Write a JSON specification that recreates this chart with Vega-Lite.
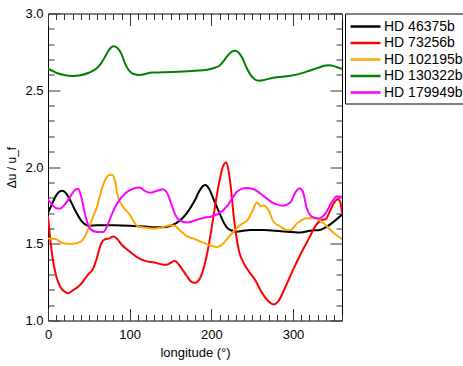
{
  "$schema": "https://vega.github.io/schema/vega-lite/v6.json",
  "width": 294,
  "height": 307,
  "autosize": {"type": "none"},
  "padding": {"left": 48, "top": 13.5, "right": 121, "bottom": 45.5},
  "background": "white",
  "config": {
    "view": {"stroke": "black", "strokeWidth": 1},
    "font": "Liberation Sans",
    "axis": {"domain": false, "grid": false, "tickColor": "#333", "labelColor": "black", "titleColor": "black", "labelFont": "Liberation Sans", "titleFont": "Liberation Sans", "titleFontWeight": "normal"}
  },
  "datasets": {
    "curves": [
      {"planet": "HD 46375b", "lon": 0, "du": 1.70}, {"planet": "HD 46375b", "lon": 5, "du": 1.76}, {"planet": "HD 46375b", "lon": 10, "du": 1.815}, {"planet": "HD 46375b", "lon": 15, "du": 1.843}, {"planet": "HD 46375b", "lon": 18, "du": 1.846}, {"planet": "HD 46375b", "lon": 22, "du": 1.83}, {"planet": "HD 46375b", "lon": 27, "du": 1.785}, {"planet": "HD 46375b", "lon": 33, "du": 1.72}, {"planet": "HD 46375b", "lon": 40, "du": 1.656}, {"planet": "HD 46375b", "lon": 45, "du": 1.628}, {"planet": "HD 46375b", "lon": 50, "du": 1.618}, {"planet": "HD 46375b", "lon": 60, "du": 1.62}, {"planet": "HD 46375b", "lon": 80, "du": 1.62}, {"planet": "HD 46375b", "lon": 100, "du": 1.618}, {"planet": "HD 46375b", "lon": 120, "du": 1.612}, {"planet": "HD 46375b", "lon": 130, "du": 1.607}, {"planet": "HD 46375b", "lon": 140, "du": 1.607}, {"planet": "HD 46375b", "lon": 150, "du": 1.617}, {"planet": "HD 46375b", "lon": 160, "du": 1.645}, {"planet": "HD 46375b", "lon": 170, "du": 1.70}, {"planet": "HD 46375b", "lon": 180, "du": 1.785}, {"planet": "HD 46375b", "lon": 185, "du": 1.84}, {"planet": "HD 46375b", "lon": 190, "du": 1.877}, {"planet": "HD 46375b", "lon": 193, "du": 1.883}, {"planet": "HD 46375b", "lon": 197, "du": 1.86}, {"planet": "HD 46375b", "lon": 203, "du": 1.787}, {"planet": "HD 46375b", "lon": 210, "du": 1.70}, {"planet": "HD 46375b", "lon": 215, "du": 1.64}, {"planet": "HD 46375b", "lon": 220, "du": 1.60}, {"planet": "HD 46375b", "lon": 225, "du": 1.586}, {"planet": "HD 46375b", "lon": 230, "du": 1.578}, {"planet": "HD 46375b", "lon": 248, "du": 1.59}, {"planet": "HD 46375b", "lon": 264, "du": 1.59}, {"planet": "HD 46375b", "lon": 285, "du": 1.582}, {"planet": "HD 46375b", "lon": 309, "du": 1.573}, {"planet": "HD 46375b", "lon": 321, "du": 1.585}, {"planet": "HD 46375b", "lon": 333, "du": 1.59}, {"planet": "HD 46375b", "lon": 341, "du": 1.61}, {"planet": "HD 46375b", "lon": 350, "du": 1.644}, {"planet": "HD 46375b", "lon": 360, "du": 1.69},

      {"planet": "HD 73256b", "lon": 0, "du": 1.68}, {"planet": "HD 73256b", "lon": 2, "du": 1.57}, {"planet": "HD 73256b", "lon": 5, "du": 1.43}, {"planet": "HD 73256b", "lon": 10, "du": 1.29}, {"planet": "HD 73256b", "lon": 15, "du": 1.22}, {"planet": "HD 73256b", "lon": 20, "du": 1.19}, {"planet": "HD 73256b", "lon": 24, "du": 1.178}, {"planet": "HD 73256b", "lon": 30, "du": 1.195}, {"planet": "HD 73256b", "lon": 40, "du": 1.235}, {"planet": "HD 73256b", "lon": 45, "du": 1.27}, {"planet": "HD 73256b", "lon": 50, "du": 1.305}, {"planet": "HD 73256b", "lon": 55, "du": 1.335}, {"planet": "HD 73256b", "lon": 60, "du": 1.41}, {"planet": "HD 73256b", "lon": 65, "du": 1.5}, {"planet": "HD 73256b", "lon": 70, "du": 1.53}, {"planet": "HD 73256b", "lon": 75, "du": 1.535}, {"planet": "HD 73256b", "lon": 80, "du": 1.548}, {"planet": "HD 73256b", "lon": 85, "du": 1.53}, {"planet": "HD 73256b", "lon": 90, "du": 1.495}, {"planet": "HD 73256b", "lon": 100, "du": 1.45}, {"planet": "HD 73256b", "lon": 110, "du": 1.41}, {"planet": "HD 73256b", "lon": 120, "du": 1.387}, {"planet": "HD 73256b", "lon": 130, "du": 1.378}, {"planet": "HD 73256b", "lon": 140, "du": 1.365}, {"planet": "HD 73256b", "lon": 145, "du": 1.363}, {"planet": "HD 73256b", "lon": 150, "du": 1.375}, {"planet": "HD 73256b", "lon": 155, "du": 1.39}, {"planet": "HD 73256b", "lon": 160, "du": 1.365}, {"planet": "HD 73256b", "lon": 170, "du": 1.29}, {"planet": "HD 73256b", "lon": 175, "du": 1.255}, {"planet": "HD 73256b", "lon": 180, "du": 1.245}, {"planet": "HD 73256b", "lon": 185, "du": 1.265}, {"planet": "HD 73256b", "lon": 190, "du": 1.33}, {"planet": "HD 73256b", "lon": 195, "du": 1.44}, {"planet": "HD 73256b", "lon": 200, "du": 1.59}, {"planet": "HD 73256b", "lon": 205, "du": 1.76}, {"planet": "HD 73256b", "lon": 210, "du": 1.91}, {"planet": "HD 73256b", "lon": 214, "du": 2.0}, {"planet": "HD 73256b", "lon": 218, "du": 2.03}, {"planet": "HD 73256b", "lon": 221, "du": 1.98}, {"planet": "HD 73256b", "lon": 224, "du": 1.86}, {"planet": "HD 73256b", "lon": 227, "du": 1.7}, {"planet": "HD 73256b", "lon": 230, "du": 1.57}, {"planet": "HD 73256b", "lon": 234, "du": 1.45}, {"planet": "HD 73256b", "lon": 240, "du": 1.37}, {"planet": "HD 73256b", "lon": 246, "du": 1.32}, {"planet": "HD 73256b", "lon": 254, "du": 1.26}, {"planet": "HD 73256b", "lon": 262, "du": 1.18}, {"planet": "HD 73256b", "lon": 270, "du": 1.125}, {"planet": "HD 73256b", "lon": 276, "du": 1.105}, {"planet": "HD 73256b", "lon": 282, "du": 1.125}, {"planet": "HD 73256b", "lon": 290, "du": 1.21}, {"planet": "HD 73256b", "lon": 300, "du": 1.33}, {"planet": "HD 73256b", "lon": 310, "du": 1.44}, {"planet": "HD 73256b", "lon": 320, "du": 1.54}, {"planet": "HD 73256b", "lon": 328, "du": 1.62}, {"planet": "HD 73256b", "lon": 335, "du": 1.655}, {"planet": "HD 73256b", "lon": 340, "du": 1.66}, {"planet": "HD 73256b", "lon": 345, "du": 1.71}, {"planet": "HD 73256b", "lon": 350, "du": 1.765}, {"planet": "HD 73256b", "lon": 355, "du": 1.79}, {"planet": "HD 73256b", "lon": 358, "du": 1.77}, {"planet": "HD 73256b", "lon": 360, "du": 1.70},

      {"planet": "HD 102195b", "lon": 0, "du": 1.535}, {"planet": "HD 102195b", "lon": 10, "du": 1.53}, {"planet": "HD 102195b", "lon": 15, "du": 1.512}, {"planet": "HD 102195b", "lon": 20, "du": 1.502}, {"planet": "HD 102195b", "lon": 30, "du": 1.50}, {"planet": "HD 102195b", "lon": 40, "du": 1.514}, {"planet": "HD 102195b", "lon": 45, "du": 1.545}, {"planet": "HD 102195b", "lon": 50, "du": 1.605}, {"planet": "HD 102195b", "lon": 55, "du": 1.675}, {"planet": "HD 102195b", "lon": 60, "du": 1.74}, {"planet": "HD 102195b", "lon": 65, "du": 1.84}, {"planet": "HD 102195b", "lon": 70, "du": 1.915}, {"planet": "HD 102195b", "lon": 75, "du": 1.948}, {"planet": "HD 102195b", "lon": 79, "du": 1.948}, {"planet": "HD 102195b", "lon": 82, "du": 1.91}, {"planet": "HD 102195b", "lon": 85, "du": 1.82}, {"planet": "HD 102195b", "lon": 90, "du": 1.755}, {"planet": "HD 102195b", "lon": 95, "du": 1.72}, {"planet": "HD 102195b", "lon": 100, "du": 1.69}, {"planet": "HD 102195b", "lon": 105, "du": 1.645}, {"planet": "HD 102195b", "lon": 110, "du": 1.612}, {"planet": "HD 102195b", "lon": 120, "du": 1.605}, {"planet": "HD 102195b", "lon": 130, "du": 1.60}, {"planet": "HD 102195b", "lon": 140, "du": 1.607}, {"planet": "HD 102195b", "lon": 150, "du": 1.62}, {"planet": "HD 102195b", "lon": 155, "du": 1.618}, {"planet": "HD 102195b", "lon": 160, "du": 1.595}, {"planet": "HD 102195b", "lon": 170, "du": 1.55}, {"planet": "HD 102195b", "lon": 180, "du": 1.53}, {"planet": "HD 102195b", "lon": 190, "du": 1.507}, {"planet": "HD 102195b", "lon": 200, "du": 1.488}, {"planet": "HD 102195b", "lon": 207, "du": 1.478}, {"planet": "HD 102195b", "lon": 212, "du": 1.49}, {"planet": "HD 102195b", "lon": 220, "du": 1.535}, {"planet": "HD 102195b", "lon": 228, "du": 1.585}, {"planet": "HD 102195b", "lon": 235, "du": 1.62}, {"planet": "HD 102195b", "lon": 245, "du": 1.66}, {"planet": "HD 102195b", "lon": 250, "du": 1.71}, {"planet": "HD 102195b", "lon": 256, "du": 1.77}, {"planet": "HD 102195b", "lon": 260, "du": 1.745}, {"planet": "HD 102195b", "lon": 265, "du": 1.75}, {"planet": "HD 102195b", "lon": 270, "du": 1.72}, {"planet": "HD 102195b", "lon": 276, "du": 1.645}, {"planet": "HD 102195b", "lon": 285, "du": 1.612}, {"planet": "HD 102195b", "lon": 292, "du": 1.59}, {"planet": "HD 102195b", "lon": 297, "du": 1.59}, {"planet": "HD 102195b", "lon": 305, "du": 1.633}, {"planet": "HD 102195b", "lon": 317, "du": 1.666}, {"planet": "HD 102195b", "lon": 327, "du": 1.666}, {"planet": "HD 102195b", "lon": 337, "du": 1.635}, {"planet": "HD 102195b", "lon": 350, "du": 1.57}, {"planet": "HD 102195b", "lon": 360, "du": 1.53},

      {"planet": "HD 130322b", "lon": 0, "du": 2.64}, {"planet": "HD 130322b", "lon": 5, "du": 2.627}, {"planet": "HD 130322b", "lon": 10, "du": 2.614}, {"planet": "HD 130322b", "lon": 20, "du": 2.599}, {"planet": "HD 130322b", "lon": 30, "du": 2.593}, {"planet": "HD 130322b", "lon": 40, "du": 2.598}, {"planet": "HD 130322b", "lon": 50, "du": 2.614}, {"planet": "HD 130322b", "lon": 60, "du": 2.645}, {"planet": "HD 130322b", "lon": 65, "du": 2.675}, {"planet": "HD 130322b", "lon": 70, "du": 2.72}, {"planet": "HD 130322b", "lon": 75, "du": 2.765}, {"planet": "HD 130322b", "lon": 80, "du": 2.786}, {"planet": "HD 130322b", "lon": 85, "du": 2.775}, {"planet": "HD 130322b", "lon": 90, "du": 2.735}, {"planet": "HD 130322b", "lon": 95, "du": 2.665}, {"planet": "HD 130322b", "lon": 100, "du": 2.625}, {"planet": "HD 130322b", "lon": 105, "du": 2.606}, {"planet": "HD 130322b", "lon": 112, "du": 2.6}, {"planet": "HD 130322b", "lon": 120, "du": 2.607}, {"planet": "HD 130322b", "lon": 127, "du": 2.615}, {"planet": "HD 130322b", "lon": 140, "du": 2.617}, {"planet": "HD 130322b", "lon": 160, "du": 2.621}, {"planet": "HD 130322b", "lon": 180, "du": 2.627}, {"planet": "HD 130322b", "lon": 195, "du": 2.634}, {"planet": "HD 130322b", "lon": 205, "du": 2.648}, {"planet": "HD 130322b", "lon": 210, "du": 2.66}, {"planet": "HD 130322b", "lon": 215, "du": 2.69}, {"planet": "HD 130322b", "lon": 220, "du": 2.725}, {"planet": "HD 130322b", "lon": 225, "du": 2.752}, {"planet": "HD 130322b", "lon": 229, "du": 2.758}, {"planet": "HD 130322b", "lon": 233, "du": 2.748}, {"planet": "HD 130322b", "lon": 238, "du": 2.71}, {"planet": "HD 130322b", "lon": 243, "du": 2.648}, {"planet": "HD 130322b", "lon": 248, "du": 2.6}, {"planet": "HD 130322b", "lon": 253, "du": 2.572}, {"planet": "HD 130322b", "lon": 258, "du": 2.562}, {"planet": "HD 130322b", "lon": 265, "du": 2.567}, {"planet": "HD 130322b", "lon": 270, "du": 2.574}, {"planet": "HD 130322b", "lon": 280, "du": 2.584}, {"planet": "HD 130322b", "lon": 295, "du": 2.593}, {"planet": "HD 130322b", "lon": 310, "du": 2.61}, {"planet": "HD 130322b", "lon": 320, "du": 2.627}, {"planet": "HD 130322b", "lon": 330, "du": 2.645}, {"planet": "HD 130322b", "lon": 340, "du": 2.661}, {"planet": "HD 130322b", "lon": 345, "du": 2.663}, {"planet": "HD 130322b", "lon": 350, "du": 2.657}, {"planet": "HD 130322b", "lon": 355, "du": 2.648}, {"planet": "HD 130322b", "lon": 360, "du": 2.638},

      {"planet": "HD 179949b", "lon": 0, "du": 1.79}, {"planet": "HD 179949b", "lon": 5, "du": 1.755}, {"planet": "HD 179949b", "lon": 10, "du": 1.732}, {"planet": "HD 179949b", "lon": 15, "du": 1.73}, {"planet": "HD 179949b", "lon": 20, "du": 1.752}, {"planet": "HD 179949b", "lon": 27, "du": 1.805}, {"planet": "HD 179949b", "lon": 33, "du": 1.85}, {"planet": "HD 179949b", "lon": 37, "du": 1.858}, {"planet": "HD 179949b", "lon": 41, "du": 1.8}, {"planet": "HD 179949b", "lon": 45, "du": 1.7}, {"planet": "HD 179949b", "lon": 49, "du": 1.625}, {"planet": "HD 179949b", "lon": 53, "du": 1.59}, {"planet": "HD 179949b", "lon": 60, "du": 1.577}, {"planet": "HD 179949b", "lon": 68, "du": 1.577}, {"planet": "HD 179949b", "lon": 72, "du": 1.61}, {"planet": "HD 179949b", "lon": 78, "du": 1.69}, {"planet": "HD 179949b", "lon": 85, "du": 1.765}, {"planet": "HD 179949b", "lon": 95, "du": 1.83}, {"planet": "HD 179949b", "lon": 105, "du": 1.86}, {"planet": "HD 179949b", "lon": 112, "du": 1.866}, {"planet": "HD 179949b", "lon": 120, "du": 1.84}, {"planet": "HD 179949b", "lon": 125, "du": 1.833}, {"planet": "HD 179949b", "lon": 135, "du": 1.847}, {"planet": "HD 179949b", "lon": 140, "du": 1.855}, {"planet": "HD 179949b", "lon": 145, "du": 1.84}, {"planet": "HD 179949b", "lon": 150, "du": 1.775}, {"planet": "HD 179949b", "lon": 155, "du": 1.70}, {"planet": "HD 179949b", "lon": 160, "du": 1.657}, {"planet": "HD 179949b", "lon": 170, "du": 1.638}, {"planet": "HD 179949b", "lon": 180, "du": 1.652}, {"planet": "HD 179949b", "lon": 190, "du": 1.668}, {"planet": "HD 179949b", "lon": 200, "du": 1.678}, {"planet": "HD 179949b", "lon": 210, "du": 1.70}, {"planet": "HD 179949b", "lon": 220, "du": 1.75}, {"planet": "HD 179949b", "lon": 226, "du": 1.8}, {"planet": "HD 179949b", "lon": 232, "du": 1.842}, {"planet": "HD 179949b", "lon": 242, "du": 1.864}, {"planet": "HD 179949b", "lon": 252, "du": 1.855}, {"planet": "HD 179949b", "lon": 264, "du": 1.81}, {"planet": "HD 179949b", "lon": 276, "du": 1.765}, {"planet": "HD 179949b", "lon": 288, "du": 1.748}, {"planet": "HD 179949b", "lon": 297, "du": 1.77}, {"planet": "HD 179949b", "lon": 303, "du": 1.835}, {"planet": "HD 179949b", "lon": 308, "du": 1.862}, {"planet": "HD 179949b", "lon": 312, "du": 1.84}, {"planet": "HD 179949b", "lon": 317, "du": 1.73}, {"planet": "HD 179949b", "lon": 323, "du": 1.677}, {"planet": "HD 179949b", "lon": 331, "du": 1.665}, {"planet": "HD 179949b", "lon": 340, "du": 1.70}, {"planet": "HD 179949b", "lon": 348, "du": 1.775}, {"planet": "HD 179949b", "lon": 354, "du": 1.81}, {"planet": "HD 179949b", "lon": 360, "du": 1.805}
    ]
  },
  "data": {"name": "curves"},
  "resolve": {"axis": {"x": "independent", "y": "independent"}},
  "layer": [
    {
      "mark": {"type": "line", "interpolate": "monotone", "strokeWidth": 2, "clip": true},
      "encoding": {
        "x": {"field": "lon", "type": "quantitative", "scale": {"domain": [0, 360], "nice": false, "zero": false},
          "axis": {"orient": "bottom", "title": "longitude (°)", "values": [0,10,20,30,40,50,60,70,80,90,100,110,120,130,140,150,160,170,180,190,200,210,220,230,240,250,260,270,280,290,300,310,320,330,340,350,360],
            "labelExpr": "datum.value % 100 === 0 ? datum.label : ''",
            "tickSize": {"condition": {"test": "datum.value % 100 === 0", "value": -12}, "value": -6},
            "labelPadding": 20, "labelFontSize": 13, "titleFontSize": 13, "titlePadding": -1, "labelFlush": false, "labelOverlap": false}},
        "y": {"field": "du", "type": "quantitative", "scale": {"domain": [1, 3], "nice": false, "zero": false},
          "axis": {"orient": "left", "title": "Δu / u_f", "values": [1,1.1,1.2,1.3,1.4,1.5,1.6,1.7,1.8,1.9,2,2.1,2.2,2.3,2.4,2.5,2.6,2.7,2.8,2.9,3],
            "labelExpr": "abs(datum.value*2 - round(datum.value*2)) < 0.001 ? format(datum.value, '.1f') : ''",
            "tickSize": {"condition": {"test": "abs(datum.value*2 - round(datum.value*2)) < 0.001", "value": -12}, "value": -6},
            "labelPadding": 17, "labelFontSize": 13, "titleFontSize": 12, "titlePadding": 6, "labelFlush": false, "labelOverlap": false}},
        "color": {"field": "planet", "type": "nominal",
          "scale": {"domain": ["HD 46375b", "HD 73256b", "HD 102195b", "HD 130322b", "HD 179949b"], "range": ["#000000", "#ff0000", "#ffa500", "#008000", "#ff00ff"]},
          "legend": {"title": null, "orient": "none", "legendX": 297, "legendY": 0, "strokeColor": "black", "fillColor": "white", "padding": 4, "symbolType": "M-1,0H3", "symbolSize": 225, "symbolStrokeWidth": 2.5, "labelFontSize": 14, "labelFont": "Liberation Sans", "labelColor": "black", "rowPadding": 0.5, "labelOffset": 17, "labelLimit": 200}}
      }
    },
    {
      "mark": {"type": "line", "strokeOpacity": 0, "interpolate": "monotone"},
      "encoding": {
        "detail": {"field": "planet", "type": "nominal"},
        "x": {"field": "lon", "type": "quantitative", "scale": {"domain": [0, 360], "nice": false, "zero": false},
          "axis": {"orient": "top", "title": null, "labels": false, "values": [0,10,20,30,40,50,60,70,80,90,100,110,120,130,140,150,160,170,180,190,200,210,220,230,240,250,260,270,280,290,300,310,320,330,340,350,360],
            "tickSize": {"condition": {"test": "datum.value % 100 === 0", "value": -12}, "value": -6}}},
        "y": {"field": "du", "type": "quantitative", "scale": {"domain": [1, 3], "nice": false, "zero": false},
          "axis": {"orient": "right", "title": null, "labels": false, "values": [1,1.1,1.2,1.3,1.4,1.5,1.6,1.7,1.8,1.9,2,2.1,2.2,2.3,2.4,2.5,2.6,2.7,2.8,2.9,3],
            "tickSize": {"condition": {"test": "abs(datum.value*2 - round(datum.value*2)) < 0.001", "value": -12}, "value": -6}}}
      }
    }
  ]
}
